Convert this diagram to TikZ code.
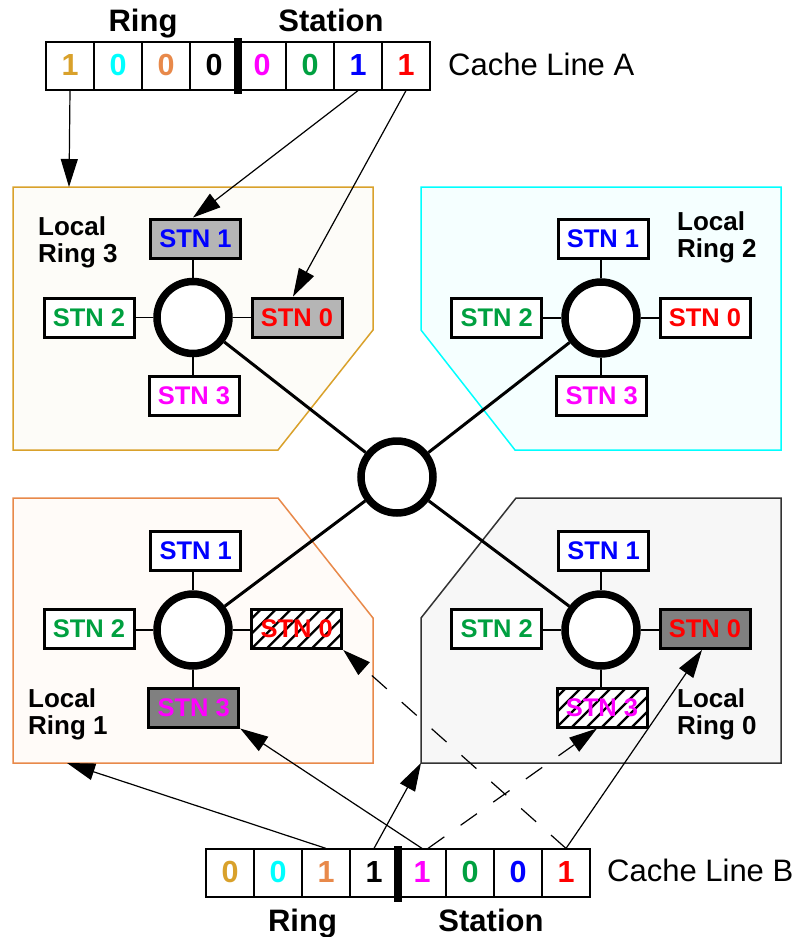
\documentclass[tikz,border=0pt]{standalone}
\usepackage{fontspec}
\setmainfont{Liberation Sans}
\usetikzlibrary{arrows.meta,calc}

% palette
\definecolor{ringgold}{HTML}{D9A12B}
\definecolor{ringorange}{HTML}{E8894A}
\definecolor{ringcyan}{HTML}{00FFFF}
\definecolor{stnmagenta}{HTML}{FF00FF}
\definecolor{stngreen}{HTML}{00A040}
\definecolor{stnblue}{HTML}{0000FF}
\definecolor{stnred}{HTML}{FF0000}
\definecolor{selgray}{HTML}{B5B5B5}
\definecolor{hitgray}{HTML}{808080}
\definecolor{goldfill}{HTML}{FDFCF8}
\definecolor{cyanfill}{HTML}{F5FFFF}
\definecolor{orangefill}{HTML}{FFFBF8}
\definecolor{grayfill}{HTML}{F7F7F7}
\definecolor{grayedge}{HTML}{333333}

\begin{document}
\begin{tikzpicture}[x=1pt,y=-1pt,
  cell/.style={draw,line width=1.2pt,minimum width=48pt,minimum height=48pt,
    inner sep=0pt,text height=22pt,text depth=4pt,
    font=\fontsize{30.5}{32}\selectfont\bfseries},
  stn/.style={draw,line width=3pt,minimum width=90pt,minimum height=39pt,
    inner sep=0pt,fill=white,font=\fontsize{25.5}{27}\selectfont\bfseries},
  ring/.style={circle,draw,line width=7.5pt,minimum size=72pt,inner sep=0pt,fill=white},
  spoke/.style={line width=1.2pt},
  trunk/.style={line width=3pt},
  ptr/.style={line width=1.2pt,-{Triangle[length=28pt,width=17pt]}},
  hatched/.style={path picture={
    \foreach \k in {-4,...,7}
      \draw[line width=2.3pt] ([xshift=\k*15pt]path picture bounding box.south west) -- ++(50,-50);}},
  lbl/.style={align=left,inner sep=0pt,anchor=north west,
    font=\fontsize{26}{27}\selectfont\bfseries},
  head/.style={inner sep=0pt,anchor=base,font=\fontsize{31}{33}\selectfont\bfseries},
  linename/.style={inner sep=0pt,anchor=base west,font=\fontsize{31}{33}\selectfont},
  panel/.style={line width=1.5pt}
]
\useasboundingbox (0,0) rectangle (798,937);

% ring panels
\draw[panel,draw=ringgold,fill=goldfill]
  (13,187) -- (373,187) -- (373,330) -- (278,450) -- (13,450) -- cycle;
\draw[panel,draw=ringcyan,fill=cyanfill]
  (421,187) -- (781,187) -- (781,450) -- (515,450) -- (421,330) -- cycle;
\draw[panel,draw=ringorange,fill=orangefill]
  (13,498) -- (278,498) -- (373,618) -- (373,763) -- (13,763) -- cycle;
\draw[panel,draw=grayedge,fill=grayfill]
  (516,498) -- (781,498) -- (781,763) -- (421,763) -- (421,618) -- cycle;
\coordinate (p3in) at (69,187);
\coordinate (p1in) at (67,763);
\coordinate (p0in) at (421,763);

% ring labels
\node[lbl] (l3) at (38,216) {Local\\Ring 3};
\node[lbl] (l2) at (677,211) {Local\\Ring 2};
\node[lbl] (l1) at (28,688) {Local\\Ring 1};
\node[lbl] (l0) at (677,688) {Local\\Ring 0};

% rings
\node[ring] (c)  at (397,477) {};
\node[ring] (r3) at (193,317.5) {};
\node[ring] (r2) at (601,318) {};
\node[ring] (r1) at (193,630) {};
\node[ring] (r0) at (601,630) {};

% stations, local ring 3
\node[stn,fill=selgray,text=stnblue] (r3s1) at (195.5,238.5) {STN 1};
\node[stn,text=stngreen] (r3s2) at (89,317.5) {STN 2};
\node[stn,fill=selgray,text=stnred] (r3s0) at (297,317.5) {STN 0};
\node[stn,text=stnmagenta] (r3s3) at (194,395.5) {STN 3};
% stations, local ring 2
\node[stn,text=stnblue] (r2s1) at (603,238.8) {STN 1};
\node[stn,text=stngreen] (r2s2) at (496.7,318) {STN 2};
\node[stn,text=stnred] (r2s0) at (705,318) {STN 0};
\node[stn,text=stnmagenta] (r2s3) at (601.7,395.5) {STN 3};
% stations, local ring 1
\node[stn,text=stnblue] (r1s1) at (195.7,551) {STN 1};
\node[stn,text=stngreen] (r1s2) at (89,629) {STN 2};
\node[stn,hatched,text=stnred] (r1s0) at (296.7,629) {STN 0};
\node[stn,fill=hitgray,text=stnmagenta] (r1s3) at (193.7,707.5) {STN 3};
% stations, local ring 0
\node[stn,text=stnblue] (r0s1) at (603.6,551) {STN 1};
\node[stn,text=stngreen] (r0s2) at (496.7,629) {STN 2};
\node[stn,fill=hitgray,text=stnred] (r0s0) at (705,629) {STN 0};
\node[stn,hatched,text=stnmagenta] (r0s3) at (602,707.5) {STN 3};

% spokes
\foreach \r in {r3,r2,r1,r0}{
  \draw[spoke] (\r.north) -- (\r.north |- \r s1.south);
  \draw[spoke] (\r.south) -- (\r.south |- \r s3.north);
  \draw[spoke] (\r.west) -- (\r.west -| \r s2.east);
  \draw[spoke] (\r.east) -- (\r.east -| \r s0.west);
}

% global ring links
\foreach \r in {r3,r2,r1,r0}
  \draw[trunk] (\r) -- (c);

% cache line A
\foreach \k/\d/\col in {0/1/ringgold,1/0/ringcyan,2/0/ringorange,3/0/black,
                       4/0/stnmagenta,5/0/stngreen,6/1/stnblue,7/1/stnred}
  \node[cell,text=\col] (a\k) at (70+48*\k,66) {\d};
\fill (234,38) rectangle (242,94);
\node[head] (ringA) at (143,31.7) {Ring};
\node[head] (stnA) at (331,31.7) {Station};
\node[linename] (nameA) at (448,75) {Cache Line A};

% cache line B
\foreach \k/\d/\col in {0/0/ringgold,1/0/ringcyan,2/1/ringorange,3/1/black,
                       4/1/stnmagenta,5/0/stngreen,6/0/stnblue,7/1/stnred}
  \node[cell,text=\col] (b\k) at (230+48*\k,873) {\d};
\fill (394,846) rectangle (402,902);
\node[head] (ringB) at (302.5,931.7) {Ring};
\node[head] (stnB) at (491,931.7) {Station};
\node[linename] (nameB) at (607,881.7) {Cache Line B};

% pointers from cache line A
\draw[ptr] (a0.south) -- (p3in);
\draw[ptr] (a6.south) -- (r3s1.north -| r3);
\draw[ptr] (a7.south) -- ([xshift=-4pt]r3s0.north);

% pointers from cache line B
\draw[ptr] (b2.north) -- (p1in);
\draw[ptr] (b3.north) -- (p0in);
\draw[ptr] (b4.north) -- (r1s3.south east);
\draw[ptr,dash pattern=on 20pt off 20pt] ([xshift=6pt]b4.north) -- ([xshift=-5pt]r0s3.south);
\draw[ptr] (b7.north) -- ([xshift=-3pt]r0s0.south);
\draw[ptr,dash pattern=on 20pt off 20pt] (b7.north) -- (r1s0.south east);
\end{tikzpicture}
\end{document}
